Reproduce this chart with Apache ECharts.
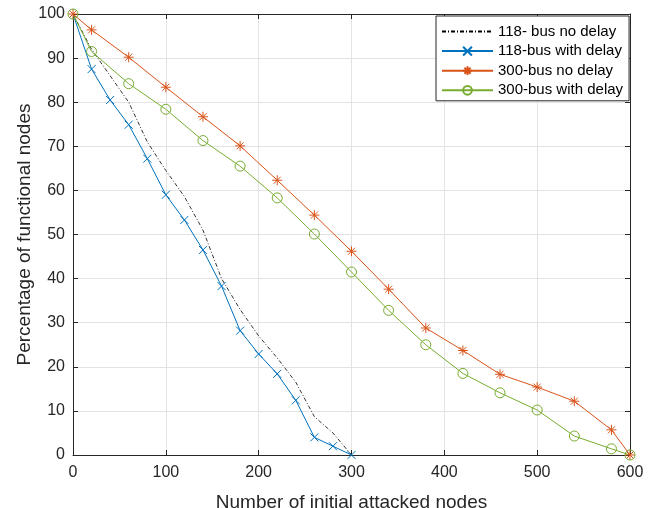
<!DOCTYPE html>
<html>
<head>
<meta charset="utf-8">
<script src="https://cdn.jsdelivr.net/npm/echarts@6/dist/echarts.min.js"></script>
<style>
    html, body { margin: 0; padding: 0; background: #fff; }
    #chart { width: 656px; height: 508px; }
</style>
</head>
<body>
<div id="chart"></div>
<script>
//数据
var names = ['118- bus no delay', '118-bus with delay', '300-bus no delay', '300-bus with delay'];

var x118 = [0, 20, 40, 60, 80, 100, 120, 140, 160, 180, 200, 220, 240, 260, 280, 300];
var y118NoDelay = [100, 92, 86, 80, 71, 64.5, 58.6, 51, 40, 33, 27, 22, 16.5, 8.7, 5, 0];
var y118Delay = [100, 87.5, 80.5, 74.9, 67.2, 59, 53.3, 46.5, 38.3, 28.2, 22.9, 18.4, 12.4, 4, 2, 0];

var x300 = [0, 20, 60, 100, 140, 180, 220, 260, 300, 340, 380, 420, 460, 500, 540, 580, 600];
var y300NoDelay = [100, 96.4, 90.2, 83.4, 76.7, 70.1, 62.3, 54.4, 46.2, 37.6, 28.8, 23.7, 18.3, 15.4, 12.2, 5.7, 0];
var y300Delay = [100, 91.5, 84.2, 78.4, 71.3, 65.5, 58.3, 50.1, 41.5, 32.8, 25, 18.5, 14.1, 10.2, 4.3, 1.4, 0];

var xTicks = [0, 100, 200, 300, 400, 500, 600];
var yTicks = [0, 10, 20, 30, 40, 50, 60, 70, 80, 90, 100];

var BLUE = '#0072BD', ORANGE = '#D95319', GREEN = '#77AC30', AXIS = '#262626';
var FONT = 'Liberation Sans, Arial, sans-serif';

//x 与 y 组合成点
function pairs(xs, ys) {
    var out = [];
    for (var i = 0; i < xs.length; i++) {
        out.push([xs[i], ys[i]]);
    }
    return out;
}

var CROSS = 'path://M0,0L10,10M0,10L10,0';
var STAR = 'path://M5,0L5,10M0,5L10,5M1.5,1.5L8.5,8.5M8.5,1.5L1.5,8.5';

function axisX(pos, show) {
    return {
        type: 'value', position: pos, min: 0, max: 600, interval: 100,
        name: show ? 'Number of initial attacked nodes' : '',
        nameLocation: 'middle', nameGap: 38, nameMoveOverlap: false,
        nameTextStyle: { fontFamily: FONT, fontSize: 19, color: AXIS },
        axisLine: { show: true, onZero: false, lineStyle: { color: AXIS, width: 1 } },
        axisTick: { show: true, inside: true, length: 5, lineStyle: { color: AXIS } },
        axisLabel: { show: show, margin: 10, fontFamily: FONT, fontSize: 16, color: AXIS,
            formatter: function(v) { return xTicks.indexOf(v) >= 0 ? String(v) : ''; } },
        splitLine: { show: show, lineStyle: { color: '#e3e3e3', width: 1 } }
    };
}

function axisY(pos, show) {
    return {
        type: 'value', position: pos, min: 0, max: 100, interval: 10,
        name: show ? 'Percentage of functional nodes' : '',
        nameLocation: 'middle', nameGap: 39, nameMoveOverlap: false,
        nameTextStyle: { fontFamily: FONT, fontSize: 19, color: AXIS },
        axisLine: { show: true, onZero: false, lineStyle: { color: AXIS, width: 1 } },
        axisTick: { show: true, inside: true, length: 5, lineStyle: { color: AXIS } },
        axisLabel: { show: show, margin: 8, fontFamily: FONT, fontSize: 16, color: AXIS,
            formatter: function(v) { return yTicks.indexOf(v) >= 0 ? String(v) : ''; } },
        splitLine: { show: show, lineStyle: { color: '#e3e3e3', width: 1 } }
    };
}

var chart = echarts.init(document.getElementById('chart'), null, { renderer: 'canvas' });

chart.setOption({
    animation: false,
    backgroundColor: '#fff',
    grid: { left: 73, right: 26, top: 14, bottom: 53, outerBoundsMode: 'none' },
    xAxis: [axisX('bottom', true), axisX('top', false)],
    yAxis: [axisY('left', true), axisY('right', false)],
    legend: {
        orient: 'vertical', left: 436, top: 16,
        padding: [8, 6, 3, 5], itemGap: 4.6, itemWidth: 51, itemHeight: 11,
        backgroundColor: '#fff', borderColor: AXIS, borderWidth: 1,
        textStyle: { fontFamily: FONT, fontSize: 15, color: '#000' },
        data: names
    },
    series: [{
        name: names[0], type: 'line', data: pairs(x118, y118NoDelay),
        showSymbol: false, symbol: 'circle', symbolSize: 0,
        lineStyle: { color: '#000', width: 0.8, type: [4, 2, 1, 2] },
        itemStyle: { color: 'rgba(0,0,0,0)', borderWidth: 0 }
    }, {
        name: names[1], type: 'line', data: pairs(x118, y118Delay),
        symbol: CROSS, symbolSize: 8,
        lineStyle: { color: BLUE, width: 1 },
        itemStyle: { color: BLUE, borderColor: BLUE, borderWidth: 1 }
    }, {
        name: names[2], type: 'line', data: pairs(x300, y300NoDelay),
        symbol: STAR, symbolSize: 10,
        lineStyle: { color: ORANGE, width: 1 },
        itemStyle: { color: ORANGE, borderColor: ORANGE, borderWidth: 1 }
    }, {
        name: names[3], type: 'line', data: pairs(x300, y300Delay),
        symbol: 'circle', symbolSize: 10,
        lineStyle: { color: GREEN, width: 1 },
        itemStyle: { color: 'rgba(255,255,255,0)', borderColor: GREEN, borderWidth: 1 }
    }]
});
</script>
</body>
</html>
